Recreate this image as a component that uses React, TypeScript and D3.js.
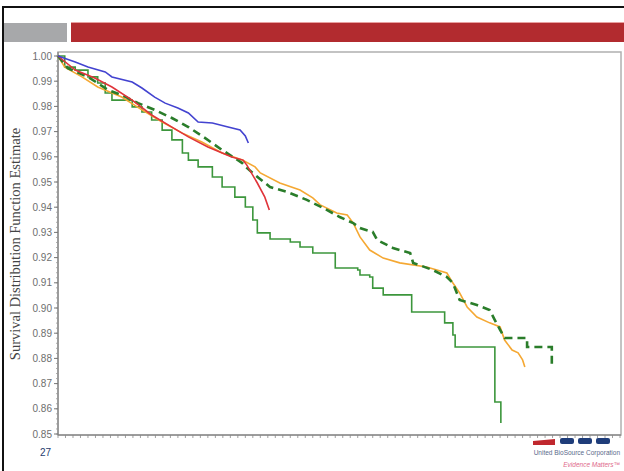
import * as d3 from 'd3'

// time axis has no labels in the slide, so values are in tick units
const yTicks = [1.0, 0.99, 0.98, 0.97, 0.96, 0.95, 0.94, 0.93, 0.92, 0.91, 0.9, 0.89, 0.88, 0.87, 0.86, 0.85]

const blue: [number, number][] = [
    [0, 1], [2.3, 0.9976], [4.0, 0.9956], [6.3, 0.9937], [7.2, 0.9917], [9.9, 0.9897],
    [11.2, 0.9873], [12.9, 0.9837], [14.3, 0.9813], [16.0, 0.9794], [17.4, 0.9774],
    [18.7, 0.9738], [20.6, 0.9734], [22.7, 0.9718], [24.3, 0.9706], [25.0, 0.9683], [25.4, 0.9655],
]

const red: [number, number][] = [
    [0, 1], [2.3, 0.9944], [4.9, 0.9913], [7.2, 0.9877], [9.9, 0.9825], [12.5, 0.9766],
    [15.2, 0.9718], [17.4, 0.9679], [20.0, 0.9639], [23.2, 0.9599], [24.7, 0.9587],
    [25.2, 0.9567], [26.6, 0.9496], [27.6, 0.944], [28.2, 0.9389],
]

const orange: [number, number][] = [
    [0, 1], [0.9, 0.9956], [3.2, 0.9917], [5.3, 0.9877], [8.5, 0.9837], [11.2, 0.9786],
    [13.9, 0.9738], [16.6, 0.9694], [19.2, 0.9659], [21.9, 0.9615], [24.6, 0.9587],
    [26.3, 0.956], [27.0, 0.9536], [29.6, 0.9496], [32.3, 0.9468], [34.0, 0.9437],
    [35.0, 0.9409], [37.2, 0.9377], [38.6, 0.9369], [39.4, 0.9337], [40.3, 0.9282],
    [41.6, 0.923], [43.4, 0.9198], [45.6, 0.9179], [49.2, 0.9163], [51.9, 0.9139],
    [52.7, 0.9099], [53.6, 0.906], [54.6, 0.9004], [55.9, 0.8964], [57.6, 0.8941],
    [59.0, 0.8925], [59.6, 0.8873], [60.6, 0.8833], [61.4, 0.8822], [62.0, 0.8794], [62.3, 0.8766],
]

const greenDashed: [number, number][] = [
    [0, 1], [1.3, 0.9952], [4.0, 0.9917], [6.7, 0.9865], [8.5, 0.9845], [10.7, 0.9813],
    [12.9, 0.9786], [15.2, 0.9754], [17.4, 0.9718], [19.6, 0.9675], [21.9, 0.9627],
    [24.6, 0.9575], [25.2, 0.9556], [26.3, 0.9528], [28.3, 0.948], [30.6, 0.946],
    [33.2, 0.9429], [35.4, 0.9397], [37.6, 0.9361], [39.4, 0.9337], [40.3, 0.9317],
    [42.0, 0.9302], [42.6, 0.927], [44.7, 0.9238], [47.0, 0.9218], [47.4, 0.9179],
    [50.0, 0.9151], [51.9, 0.9123], [52.7, 0.9099], [53.6, 0.9032], [55.9, 0.9012],
    [57.6, 0.8992], [58.3, 0.8952], [59.0, 0.8913], [59.6, 0.8881], [62.6, 0.8881],
    [62.6, 0.8845], [65.9, 0.8845], [65.9, 0.8766],
]

const greenSolid: [number, number][] = [
    [0, 1], [0.9, 0.9956], [2.3, 0.9944], [4.0, 0.9917], [5.3, 0.9893], [6.3, 0.9853],
    [7.2, 0.9825], [9.9, 0.9798], [11.2, 0.9778], [12.5, 0.9746], [13.9, 0.9706],
    [15.2, 0.9667], [16.6, 0.9615], [17.4, 0.9587], [18.7, 0.956], [20.6, 0.952],
    [21.9, 0.948], [23.6, 0.944], [25.0, 0.9401], [26.0, 0.9349], [26.6, 0.9298],
    [28.3, 0.9274], [31.0, 0.9262], [32.3, 0.9242], [34.0, 0.9218], [37.0, 0.9159],
    [40.0, 0.9151], [40.3, 0.9131], [41.6, 0.9123], [42.0, 0.9079], [43.4, 0.9052],
    [47.2, 0.8984], [51.6, 0.8941], [52.7, 0.8893], [53.0, 0.8845], [58.3, 0.8627], [59.1, 0.8544],
]

const W = 624
const H = 471
const left = 58
const right = 621
const top = 52
const bottom = 435

export default function App() {
    const x = d3.scaleLinear().domain([0, 75]).range([left, 620])
    const y = d3.scaleLinear().domain([0.85, 1.0]).range([434, 56])

    const lin = d3.line<[number, number]>().x((d) => x(d[0])).y((d) => y(d[1]))
    const step = d3
        .line<[number, number]>()
        .x((d) => x(d[0]))
        .y((d) => y(d[1]))
        .curve(d3.curveStepAfter)

    const xMinor = d3.range(0, 76, 1)
    const yMinor = d3.range(0.85, 1.0001, 0.002)

    return (
        <svg width={W} height={H} style={{ position: 'absolute', left: 0, top: 0, background: '#fff' }}>
            {/* slide frame and header bars */}
            <rect x={2} y={6} width={W} height={2} fill="#111" />
            <rect x={2} y={6} width={2} height={H} fill="#111" />
            <rect x={4} y={23} width={63} height={19} fill="#a7a8aa" />
            <rect x={71} y={22} width={W - 71} height={1} fill="#e8a0a0" />
            <rect x={71} y={23} width={W - 71} height={19} fill="#b22b2f" />

            {/* plot frame */}
            <rect x={left} y={top} width={right - left} height={bottom - top} fill="#fff" stroke="#b0b0b0" strokeWidth={1.5} />
            <line x1={left} x2={left} y1={top} y2={bottom} stroke="#777" />
            <line x1={left} x2={right} y1={bottom} y2={bottom} stroke="#777" />

            {yMinor.map((v, i) => (
                <line key={'ym' + i} x1={left - 2} x2={left} y1={y(v)} y2={y(v)} stroke="#999" strokeWidth={0.8} />
            ))}
            {yTicks.map((v) => (
                <g key={v}>
                    <line x1={left - 4} x2={left} y1={y(v)} y2={y(v)} stroke="#777" />
                    <text x={left - 6} y={y(v) + 3.5} textAnchor="end" fontSize={10} fontFamily="Liberation Sans, Arial, sans-serif" fill="#6e6e6e">
                        {v.toFixed(2)}
                    </text>
                </g>
            ))}
            {xMinor.map((v) => (
                <line key={'xm' + v} x1={x(v)} x2={x(v)} y1={bottom} y2={bottom + 3} stroke="#888" strokeWidth={0.8} />
            ))}

            <text
                transform={`translate(20, 244) rotate(-90)`}
                textAnchor="middle"
                fontSize={14.5}
                fontFamily="Liberation Serif, Times New Roman, serif"
                fill="#444"
            >
                Survival Distribution Function Estimate
            </text>

            {/* survival curves */}
            <path d={step(greenSolid) ?? ''} fill="none" stroke="#3c963c" strokeWidth={1.6} />
            <path d={lin(orange) ?? ''} fill="none" stroke="#f5a833" strokeWidth={1.6} />
            <path d={lin(greenDashed) ?? ''} fill="none" stroke="#2a7d2a" strokeWidth={2.6} strokeDasharray="8 5" />
            <path d={lin(red) ?? ''} fill="none" stroke="#e0343a" strokeWidth={1.6} />
            <path d={lin(blue) ?? ''} fill="none" stroke="#4343d0" strokeWidth={1.6} />

            {/* footer */}
            <text x={40} y={456} fontSize={10} fontFamily="Liberation Sans, Arial, sans-serif" fill="#1f3d6e">
                27
            </text>
            <path d="M533,441 L555,439 L555,445 L533,445 Z" fill="#c0282e" />
            <rect x={560} y={438} width={14} height={6} rx={2} fill="#1f3d7a" />
            <rect x={578} y={438} width={14} height={6} rx={2} fill="#1f3d7a" />
            <rect x={596} y={438} width={14} height={6} rx={2} fill="#1f3d7a" />
            <text x={620} y={455} textAnchor="end" fontSize={6.5} fontFamily="Liberation Sans, Arial, sans-serif" fill="#5a6a8a">
                United BioSource Corporation
            </text>
            <text x={620} y={467} textAnchor="end" fontSize={6.5} fontStyle="italic" fontFamily="Liberation Sans, Arial, sans-serif" fill="#e06a8a">
                Evidence Matters™
            </text>
        </svg>
    )
}
